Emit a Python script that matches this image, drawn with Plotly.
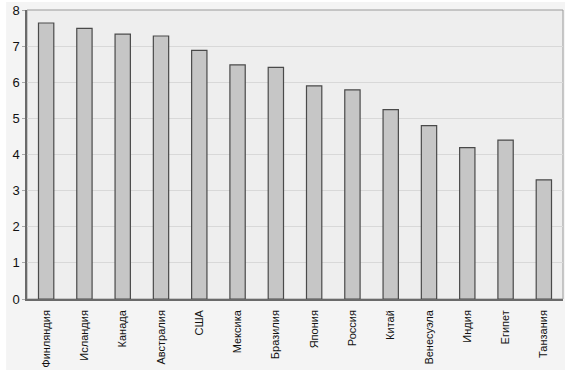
import plotly.graph_objects as go

countries = ["Финляндия", "Исландия", "Канада", "Австралия", "США", "Мексика",
             "Бразилия", "Япония", "Россия", "Китай", "Венесуэла", "Индия",
             "Египет", "Танзания"]
values = [7.64, 7.49, 7.33, 7.28, 6.88, 6.48, 6.41, 5.90, 5.79, 5.24, 4.80, 4.19, 4.40, 3.30]
y_ticks = [0, 1, 2, 3, 4, 5, 6, 7, 8]

fig = go.Figure(go.Bar(
    x=countries, y=values,
    marker=dict(color="#c6c6c6", line=dict(color="#4a4a4a", width=1.2)),
    width=0.4,
))

fig.update_layout(
    width=579, height=379,
    margin=dict(l=27, r=16, t=10, b=80),
    paper_bgcolor="white",
    plot_bgcolor="rgba(0,0,0,0)",
    showlegend=False,
    font=dict(family="Liberation Sans, Arial, sans-serif", color="#111111"),
    shapes=[
        dict(type="rect", xref="paper", yref="paper", x0=-0.039, x1=1.0037, y0=-0.2457, y1=1.0277,
             fillcolor="#f4f4f4", line=dict(width=0), layer="below"),
        dict(type="rect", xref="paper", yref="paper", x0=0, x1=1, y0=0, y1=1,
             fillcolor="#eeeeee", line=dict(color="#9a9a9a", width=1), layer="below"),
    ],
)
fig.update_xaxes(
    tickangle=-90, tickfont=dict(size=11, color="#111111"),
    showline=True, linecolor="#6a6a6a", linewidth=1.5, mirror=False,
    ticks="", range=[-0.5, len(countries) - 0.5], ticklabelstandoff=5,
    automargin=False,
)
fig.update_yaxes(
    range=[0, 8], tickvals=y_ticks, tickfont=dict(size=13, color="#111111"),
    showgrid=True, gridcolor="#d8d8d8", gridwidth=1,
    showline=True, linecolor="#6a6a6a", linewidth=1.5,
    ticks="outside", ticklen=3, tickcolor="#aaaaaa", zeroline=False,
    automargin=False,
)

fig.write_html("out.html")
